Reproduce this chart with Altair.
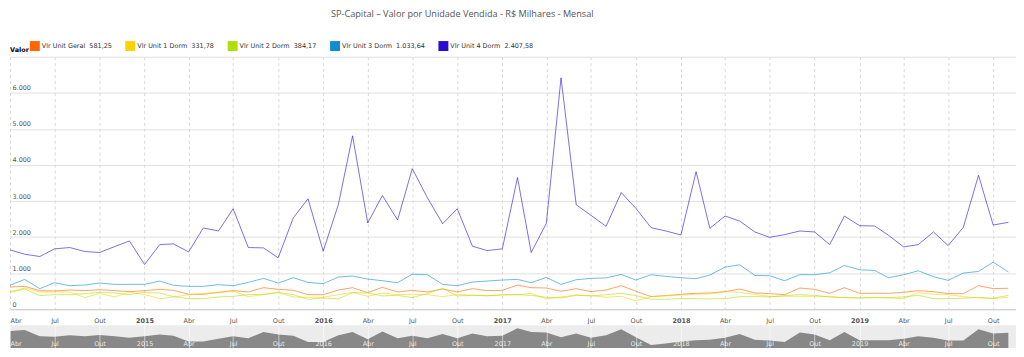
import altair as alt
import pandas as pd

# ---------------- data ----------------
MONTHS = pd.date_range("2014-04-01", periods=68, freq="MS")

SERIES = ["Vlr Unit Geral", "Vlr Unit 1 Dorm", "Vlr Unit 2 Dorm", "Vlr Unit 3 Dorm", "Vlr Unit 4 Dorm"]
LAST_VALUES = ["581,25", "331,78", "384,17", "1.033,64", "2.407,58"]
COLORS = ["#FF6600", "#FCD202", "#B0DE09", "#0D8ECF", "#2A0CD0"]

GERAL = [616, 634, 515, 506, 533, 515, 542, 515, 487, 515, 551, 524, 414, 414, 469, 515, 478, 597,
         551, 524, 404, 404, 533, 597, 460, 607, 478, 524, 478, 561, 478, 570, 515, 524, 671, 597,
         588, 496, 570, 487, 533, 653, 496, 349, 377, 414, 441, 450, 487, 561, 450, 432, 404, 588,
         551, 441, 597, 441, 441, 441, 469, 515, 487, 432, 432, 653, 570, 581]
DORM1 = [487, 588, 478, 478, 478, 322, 441, 340, 478, 404, 294, 340, 400, 441, 460, 506, 349, 404,
         460, 340, 331, 331, 404, 469, 358, 450, 404, 414, 404, 349, 404, 386, 368, 404, 404, 441,
         285, 340, 395, 377, 331, 358, 230, 349, 377, 395, 414, 423, 487, 469, 404, 358, 358, 358,
         358, 349, 322, 312, 331, 312, 294, 460, 414, 404, 349, 312, 294, 332]
DORM2 = [469, 561, 377, 404, 404, 432, 469, 450, 404, 469, 450, 349, 294, 294, 340, 358, 404, 414,
         469, 404, 276, 312, 285, 460, 450, 368, 386, 322, 432, 579, 368, 386, 377, 395, 404, 386,
         331, 312, 386, 368, 404, 441, 377, 276, 276, 294, 294, 285, 294, 349, 349, 340, 377, 404,
         386, 340, 322, 312, 322, 322, 340, 386, 294, 294, 303, 331, 303, 384]
DORM3 = [662, 827, 570, 735, 652, 671, 726, 689, 689, 689, 781, 662, 634, 634, 680, 652, 744, 855,
         726, 873, 744, 708, 892, 919, 836, 790, 735, 970, 956, 689, 652, 754, 781, 809, 827, 735,
         882, 689, 818, 855, 868, 965, 809, 956, 910, 873, 846, 947, 1167, 1232, 938, 928, 790, 960,
         956, 1011, 1213, 1094, 1075, 873, 956, 1066, 901, 800, 1002, 1048, 1305, 1034]
DORM4 = [1645, 1525, 1461, 1673, 1710, 1600, 1572, 1737, 1893, 1241, 1792, 1811, 1590, 2252, 2169,
         2785, 1710, 1700, 1425, 2537, 3061, 1608, 2904, 4807, 2390, 3153, 2472, 3897, 3088, 2371,
         2785, 1746, 1627, 1673, 3649, 1572, 2381, 6415, 2895, 2605, 2298, 3235, 2794, 2261, 2169,
         2059, 3814, 2243, 2583, 2445, 2142, 1994, 2068, 2169, 2142, 1792, 2583, 2316, 2307, 2050,
         1728, 1792, 2142, 1765, 2270, 3713, 2335, 2408]

Y_TICKS = [0, 1000, 2000, 3000, 4000, 5000, 6000, 7000]
TITLE = "SP-Capital – Valor por Unidade Vendida - R$ Milhares - Mensal"

# ---------------- tables ----------------
LABELS = [f"{n}\u00a0\u00a0{v}" for n, v in zip(SERIES, LAST_VALUES)]
rows = []
for lab, vals in zip(LABELS, [GERAL, DORM1, DORM2, DORM3, DORM4]):
    for m, v in zip(MONTHS, vals):
        rows.append({"mes": m, "serie": lab, "valor": v})
df = pd.DataFrame(rows)
nav_df = pd.DataFrame({"mes": MONTHS, "valor": GERAL})

X_TICKS = [alt.DateTime(year=int(d.year), month=int(d.month), date=1)
           for d in MONTHS if d.month in (1, 4, 7, 10)]
X_DOMAIN = [alt.DateTime(year=2014, month=4, date=1),
            alt.DateTime(year=2019, month=11, date=16, hours=15)]

W = 1012
FONT = "DejaVu Sans"
LABEL_EXPR = ("month(datum.value) == 0 ? timeFormat(datum.value, '%Y') : "
              "(month(datum.value) == 3 ? 'Abr' : (month(datum.value) == 6 ? 'Jul' : 'Out'))")

x_main = alt.X(
    "mes:T",
    scale=alt.Scale(domain=X_DOMAIN, nice=False),
    axis=alt.Axis(
        values=X_TICKS, title=None, labelExpr=LABEL_EXPR,
        labelFontWeight={"condition": {"test": "month(datum.value) == 0", "value": "bold"},
                         "value": "normal"},
        grid=True, gridDash=[3, 3], gridColor="#d8d8d8", gridWidth=1,
        domainColor="#cccccc", domainWidth=1, ticks=False, labelPadding=8,
        labelFont=FONT, labelFontSize=6.5, labelColor="#555555",
        labelOverlap=False, labelFlush=True,
    ),
)
y_main = alt.Y(
    "valor:Q",
    scale=alt.Scale(domain=[0, 7000], nice=False),
    axis=alt.Axis(
        values=Y_TICKS, title=None,
        labelExpr="datum.value >= 7000 ? '' : replace(format(datum.value, ',d'), ',', '.')",
        labelAlign="left", labelBaseline="bottom", labelPadding=-2, labelOffset=-2,
        ticks=False, domain=False, grid=True, gridColor="#e0e0e0", gridWidth=1,
        labelFont=FONT, labelFontSize=6.5, labelColor="#555555",
    ),
)

lines = alt.Chart(df).mark_line(strokeWidth=1, opacity=0.6).encode(
    x=x_main,
    y=y_main,
    color=alt.Color(
        "serie:N",
        sort=LABELS,
        scale=alt.Scale(domain=LABELS, range=COLORS),
        legend=alt.Legend(
            orient="none", legendX=0, legendY=-16, direction="horizontal",
            title="Valor", titleOrient="left", titleFont=FONT, titleFontSize=6.5,
            titleFontWeight="bold", titleColor="#000000", titlePadding=1,
            labelFont=FONT, labelFontSize=6.5, labelColor="#333333", labelOffset=2,
            symbolType="square", symbolSize=25, symbolStrokeWidth=5, symbolOpacity=1,
            columnPadding=5, padding=0, labelLimit=200,
        ),
    ),
).properties(width=W, height=254, view=alt.ViewBackground(stroke=None, fill="white"))

nav = alt.Chart(nav_df).mark_area(color="#888888", opacity=1, clip=True).encode(
    x=alt.X(
        "mes:T",
        scale=alt.Scale(domain=X_DOMAIN, nice=False),
        axis=alt.Axis(
            values=X_TICKS, title=None, labelExpr=LABEL_EXPR,
            grid=True, gridColor="#ffffff", gridOpacity=0.55, domain=False, ticks=False,
            labelPadding=-8, labelColor="#ffffff", labelOpacity=0.85, labelFont=FONT,
            labelFontSize=6.5, labelOverlap=False, labelFlush=True, zindex=1,
        ),
    ),
    y=alt.Y("valor:Q", scale=alt.Scale(domain=[290, 730], nice=False, zero=False), axis=None),
).properties(width=W, height=23, view=alt.ViewBackground(stroke=None, fill="#ececec"))

chart = alt.vconcat(lines, nav, spacing=16, bounds="flush").properties(
    title=alt.TitleParams(
        text=TITLE, font="Open Sans", fontSize=9.2, fontWeight="normal", color="#555555",
        anchor="middle", dx=-50, offset=22,
    ),
    padding={"left": 0, "top": 0, "right": 0, "bottom": 0},
).configure_view(stroke=None)

chart.save("out.html", embed_options={"renderer": "svg", "actions": False})
